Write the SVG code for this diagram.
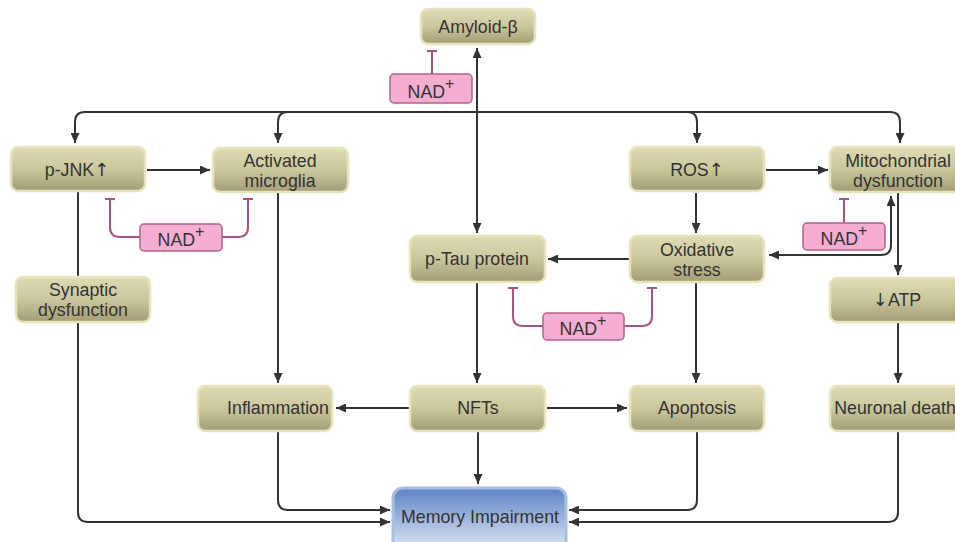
<svg xmlns="http://www.w3.org/2000/svg" width="955" height="542" viewBox="0 0 955 542">
<defs>
<linearGradient id="olive" x1="0" y1="0" x2="0" y2="1">
<stop offset="0" stop-color="#dedbb4"/>
<stop offset="0.5" stop-color="#cbc79d"/>
<stop offset="1" stop-color="#a29d74"/>
</linearGradient>
<linearGradient id="blue" x1="0" y1="0" x2="0" y2="1">
<stop offset="0" stop-color="#5d83c3"/>
<stop offset="1" stop-color="#e4ebf7"/>
</linearGradient>
<marker id="ah" viewBox="0 0 10 9" refX="10" refY="4.5" markerWidth="10" markerHeight="9" markerUnits="userSpaceOnUse" orient="auto-start-reverse">
<path d="M0,0 L10,4.5 L0,9 z" fill="#333"/>
</marker>
</defs>
<style>
.node rect{fill:url(#olive);stroke:#e7e4bb;stroke-width:2.5}
.mem rect{fill:url(#blue);stroke:#a8bfe4;stroke-width:3}
.nad rect{fill:#f5aed1;stroke:#b0628b;stroke-width:1.5}
text{font-family:"Liberation Sans",Arial,sans-serif;font-size:17.8px;fill:#333;text-anchor:middle}
.sup{font-size:16px}
.arr{font-family:"DejaVu Sans",sans-serif;font-size:18px}
.c{fill:none;stroke:#333;stroke-width:2}
.a{marker-end:url(#ah)}
.b{marker-start:url(#ah);marker-end:url(#ah)}
.inh{fill:none;stroke:#a5557f;stroke-width:2}
</style>
<rect width="955" height="542" fill="#fff"/>
<g id="connectors">
<path class="c a" d="M477 112 H85 Q75 112 75 122 V143"/>
<path class="c a" d="M477 112 H890 Q900 112 900 122 V143"/>
<path class="c a" d="M288 112 Q278 112 278 122 V143"/>
<path class="c a" d="M687 112 Q697 112 697 122 V143"/>
<path class="c b" d="M477 233 V48"/>
<path class="c a" d="M147 170 H210"/>
<path class="c a" d="M766 170 H828"/>
<path class="c a" d="M696 193 V233"/>
<path class="c a" d="M629 259 H548"/>
<path class="c b" d="M891 196 V245 Q891 255 881 255 H769"/>
<path class="c a" d="M898 193 V275"/>
<path class="c a" d="M898 323 V383"/>
<path class="c a" d="M278 193 V383"/>
<path class="c a" d="M477 283 V383"/>
<path class="c a" d="M696 283 V383"/>
<path class="c a" d="M409 408 H336"/>
<path class="c a" d="M547 408 H627"/>
<path class="c a" d="M478 432 V484"/>
<path class="c a" d="M278 432 V500 Q278 510 288 510 H390"/>
<path class="c" d="M78 192 V277"/>
<path class="c a" d="M78 323 V512 Q78 522 88 522 H390"/>
<path class="c a" d="M697 432 V500 Q697 510 687 510 H569"/>
<path class="c a" d="M898 432 V512 Q898 522 888 522 H569"/>
<path class="inh" d="M432 74 V51 M427 51 H437"/>
<path class="inh" d="M140 237 H120 Q110 237 110 227 V199 M105 199 H115"/>
<path class="inh" d="M222 237 H238 Q248 237 248 227 V199 M243 199 H253"/>
<path class="inh" d="M543 326 H523 Q513 326 513 316 V288 M508 288 H518"/>
<path class="inh" d="M623 326 H642 Q652 326 652 316 V288 M647 288 H657"/>
<path class="inh" d="M844 223 V199 M839 199 H849"/>
</g>
<g id="amyloid" class="node"><rect x="421" y="9" width="114" height="35" rx="7"/><text x="478" y="33">Amyloid-β</text></g>
<g id="pjnk" class="node"><rect x="11" y="147" width="134" height="44" rx="7"/><text x="77" y="176">p-JNK<tspan class="arr">↑</tspan></text></g>
<g id="microglia" class="node"><rect x="213" y="148" width="135" height="44" rx="7"/><text x="280" y="167">Activated</text><text x="280" y="187">microglia</text></g>
<g id="ros" class="node"><rect x="630" y="147" width="134" height="44" rx="7"/><text x="697" y="176">ROS<tspan class="arr">↑</tspan></text></g>
<g id="mito" class="node"><rect x="830" y="147" width="140" height="45" rx="7"/><text x="898" y="167">Mitochondrial</text><text x="898" y="187">dysfunction</text></g>
<g id="ptau" class="node"><rect x="410" y="236" width="135" height="46" rx="7"/><text x="477" y="265">p-Tau protein</text></g>
<g id="oxstress" class="node"><rect x="630" y="236" width="134" height="46" rx="7"/><text x="697" y="256">Oxidative</text><text x="697" y="276">stress</text></g>
<g id="synaptic" class="node"><rect x="16" y="277" width="134" height="45" rx="7"/><text x="83" y="296">Synaptic</text><text x="83" y="316">dysfunction</text></g>
<g id="atp" class="node"><rect x="830" y="278" width="140" height="44" rx="7"/><text x="897" y="306"><tspan class="arr">↓</tspan>ATP</text></g>
<g id="inflammation" class="node"><rect x="198" y="386" width="134" height="45" rx="7"/><text x="278" y="414">Inflammation</text></g>
<g id="nfts" class="node"><rect x="410" y="386" width="135" height="45" rx="7"/><text x="478" y="414">NFTs</text></g>
<g id="apoptosis" class="node"><rect x="630" y="386" width="134" height="45" rx="7"/><text x="697" y="414">Apoptosis</text></g>
<g id="neuronal" class="node"><rect x="830" y="386" width="140" height="45" rx="7"/><text x="895" y="414">Neuronal death</text></g>
<g id="memory" class="mem"><rect x="393" y="488" width="173" height="64" rx="10"/><text x="480" y="523">Memory Impairment</text></g>
<g id="nad1" class="nad"><rect x="390" y="74" width="82" height="29" rx="4"/><text x="431" y="98">NAD<tspan class="sup" dy="-9">+</tspan></text></g>
<g id="nad2" class="nad"><rect x="140" y="224" width="82" height="27" rx="4"/><text x="181" y="246">NAD<tspan class="sup" dy="-9">+</tspan></text></g>
<g id="nad3" class="nad"><rect x="543" y="313" width="81" height="27" rx="4"/><text x="583" y="335">NAD<tspan class="sup" dy="-9">+</tspan></text></g>
<g id="nad4" class="nad"><rect x="803" y="223" width="82" height="27" rx="4"/><text x="844" y="245">NAD<tspan class="sup" dy="-9">+</tspan></text></g>
</svg>
